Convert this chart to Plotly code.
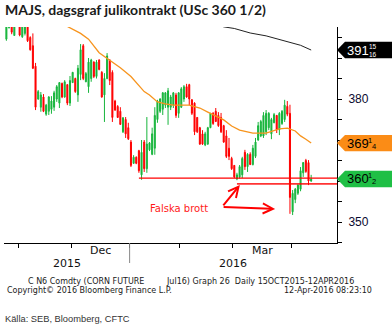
import numpy as np
import pandas as pd
import plotly.graph_objects as go

# ---------------- data ----------------
holidays = ["2015-11-26", "2015-12-25", "2016-01-01", "2016-01-18", "2016-02-15", "2016-03-25"]
trade_dates = [d for d in pd.bdate_range("2015-10-26", "2016-04-12")
               if d.strftime("%Y-%m-%d") not in holidays]

opens = [394.6, 397.4, 399.0, 395.5, 398.5, 399.5, 395.2, 396.0, 399.0, 395.0,
         393.0, 388.0, 380.0, 378.0, 380.5, 376.3, 377.0, 377.5, 378.0, 380.0,
         379.0, 383.8, 380.5, 383.5, 379.0, 384.0, 385.0, 381.0, 386.0, 393.0,
         384.2, 383.0, 385.0, 389.0, 385.5, 389.5, 386.5, 381.0, 385.0, 389.5,
         386.5, 379.5, 378.2, 377.0, 372.0, 375.0, 373.0, 369.5, 364.3, 365.8,
         367.4, 361.5, 369.5, 363.0, 367.6, 366.5, 368.0, 375.0, 377.0, 377.5,
         378.5, 378.0, 378.0, 378.5, 381.0, 376.5, 378.0, 380.0, 383.0, 383.5,
         379.8, 379.0, 375.5, 373.0, 371.5, 368.8, 369.0, 373.0, 376.5, 377.0,
         376.0, 375.5, 373.5, 371.0, 368.0, 365.5, 363.8, 360.5, 361.0, 361.5,
         367.0, 363.5, 366.5, 364.0, 366.0, 370.0, 371.0, 371.0, 372.0, 373.0,
         371.5, 374.2, 376.0, 372.5, 374.0, 375.0, 378.2, 376.5, 352.5, 355.5,
         357.0, 358.0, 362.0, 365.0, 364.5, 360.0]
highs = [399.5, 399.0, 399.5, 399.3, 400.0, 400.0, 399.5, 399.2, 399.5, 395.3,
         396.0, 388.8, 382.2, 381.7, 381.2, 378.8, 380.7, 380.7, 382.0, 383.4,
         384.1, 384.0, 384.6, 383.6, 385.6, 386.6, 385.2, 388.3, 393.4, 393.4,
         386.6, 390.0, 389.8, 389.2, 389.5, 389.7, 386.8, 386.3, 391.2, 389.7,
         387.0, 379.8, 378.5, 378.0, 375.6, 375.6, 374.2, 370.0, 366.3, 366.0,
         367.6, 370.0, 370.0, 375.6, 369.5, 373.0, 378.0, 379.8, 380.2, 381.7,
         381.7, 382.7, 381.0, 381.7, 381.5, 381.7, 382.9, 383.4, 383.7, 383.7,
         380.0, 379.2, 375.6, 373.2, 372.4, 372.0, 373.2, 376.6, 376.8, 377.8,
         376.8, 376.6, 373.7, 372.4, 370.5, 365.9, 363.9, 362.0, 363.9, 365.9,
         367.6, 366.8, 367.0, 368.8, 370.5, 374.4, 374.9, 376.8, 377.3, 376.8,
         375.4, 376.6, 376.1, 376.8, 377.3, 379.8, 379.5, 378.6, 357.8, 358.3,
         359.2, 363.4, 364.6, 365.4, 365.1, 361.5]
lows = [394.2, 397.2, 395.8, 395.4, 398.0, 395.3, 394.9, 395.5, 393.9, 391.8,
        387.3, 377.3, 379.8, 376.9, 376.8, 375.9, 376.1, 376.4, 377.1, 379.3,
        377.8, 380.2, 380.3, 378.5, 378.3, 383.9, 381.5, 379.3, 384.6, 384.6,
        384.1, 381.5, 384.2, 385.1, 385.0, 387.0, 380.3, 374.4, 384.8, 383.4,
        374.4, 377.1, 375.4, 373.7, 371.7, 370.5, 370.0, 363.4, 364.2, 364.1,
        362.0, 360.3, 362.2, 362.0, 367.3, 366.3, 366.4, 374.2, 376.6, 376.1,
        377.8, 373.7, 377.3, 377.8, 375.4, 375.4, 377.8, 379.3, 380.3, 378.5,
        376.1, 371.2, 371.7, 368.8, 368.8, 368.5, 368.8, 372.9, 373.7, 374.4,
        373.2, 371.7, 369.3, 365.6, 365.1, 362.7, 360.7, 360.2, 360.6, 360.7,
        362.7, 362.2, 363.9, 363.8, 365.6, 369.8, 370.7, 370.5, 371.2, 372.4,
        370.2, 374.1, 371.7, 371.2, 373.7, 374.4, 375.8, 352.0, 351.7, 354.6,
        356.6, 357.5, 361.0, 362.0, 359.0, 359.8]
closes = [398.5, 398.5, 396.3, 398.8, 399.5, 395.6, 398.5, 398.8, 394.2, 392.0,
          387.5, 378.0, 381.8, 381.0, 377.0, 378.5, 380.5, 379.5, 381.5, 383.0,
          384.0, 380.5, 384.2, 379.0, 384.5, 386.5, 381.8, 387.5, 392.0, 385.0,
          386.2, 389.0, 389.5, 385.5, 389.0, 387.2, 380.5, 385.0, 390.5, 384.5,
          375.5, 377.3, 375.5, 373.8, 375.4, 371.5, 370.3, 363.8, 365.8, 364.3,
          362.5, 367.0, 363.0, 369.0, 369.3, 371.5, 376.0, 379.5, 380.0, 381.5,
          381.5, 382.0, 380.5, 381.5, 376.0, 381.5, 382.5, 383.0, 380.5, 380.0,
          376.5, 372.0, 372.0, 369.0, 369.0, 371.5, 373.0, 376.5, 374.0, 374.5,
          373.5, 372.0, 369.5, 366.0, 366.0, 363.0, 361.0, 361.5, 363.5, 365.5,
          363.5, 366.5, 364.0, 368.0, 369.5, 373.5, 374.5, 376.0, 376.5, 376.5,
          375.0, 376.2, 372.5, 376.5, 377.0, 378.5, 376.3, 356.0, 357.0, 358.0,
          359.0, 362.5, 364.5, 362.3, 360.0, 360.5]

# moving averages (trading-day index, value)
ma_orange_idx = [20, 23, 28, 31, 35, 39, 43, 47, 50, 52, 54, 57, 60, 63, 69, 73, 76, 79,
                 82, 85, 88, 93, 98, 103, 106, 109, 111, 113, 115]
ma_orange_val = [399.0, 397.7, 396.0, 394.6, 391.3, 389.5, 387.6, 385.5, 383.4, 381.8, 381.0,
                 379.3, 378.8, 378.5, 378.5, 377.8, 376.8, 375.9, 374.9, 373.4, 372.4, 371.7,
                 371.7, 372.7, 372.9, 372.2, 371.0, 370.2, 369.25]
ma_black_idx = [78, 82, 86, 92, 98, 107, 111, 115]
ma_black_val = [398.5, 397.6, 397.2, 396.1, 395.4, 393.9, 393.1, 391.94]

support_levels = [360.7, 359.3]
support_start_idx = [50, 87]

arrow_tail = (81.4, 353.7)
arrow_heads = [(88.1, 359.0), (101.4, 353.2)]
note_pos = (65.1, 353.2)

y_ticks = [345, 350, 355, 360, 365, 370, 375, 380, 385, 390, 395]
y_labelled = [350, 380]          # the others sit under the price tags

# ---------------- styles ----------------
GREEN = "#17b53c"
RED = "#ff0000"
ORANGE = "#f7941d"
TAG_ORANGE = "#fb8c16"
TAG_GREEN = "#1fbf45"

XMIN, XMAX = -0.9, 124.75
YMIN, YMAX = 344.88, 397.56

x = np.arange(len(trade_dates))
month_starts = [i for i in range(1, len(trade_dates))
                if trade_dates[i].month != trade_dates[i - 1].month]
month_bounds = [m - 0.5 for m in month_starts]

fig = go.Figure()
fig.add_trace(go.Candlestick(
    x=x, open=opens, high=highs, low=lows, close=closes,
    increasing=dict(line=dict(color=GREEN, width=1), fillcolor=GREEN),
    decreasing=dict(line=dict(color=RED, width=1), fillcolor=RED),
    whiskerwidth=0, hoverinfo="skip", showlegend=False))
fig.add_trace(go.Scatter(x=ma_orange_idx, y=ma_orange_val, mode="lines",
                         line=dict(color=ORANGE, width=1.3), hoverinfo="skip", showlegend=False))
fig.add_trace(go.Scatter(x=ma_black_idx, y=ma_black_val, mode="lines",
                         line=dict(color="#222222", width=1), hoverinfo="skip", showlegend=False))

# axis triangles at labelled ticks
tri_x = XMAX + 3.5 * (XMAX - XMIN) / 333
fig.add_trace(go.Scatter(x=[tri_x] * 5, y=[350, 360, 370, 380, 390], mode="markers",
                         marker=dict(symbol="triangle-right", size=7, color="black"),
                         cliponaxis=False, hoverinfo="skip", showlegend=False))

shapes = []
for lvl, st, col, w in zip(support_levels, support_start_idx,
                           [RED, "rgba(255,0,0,0.8)"], [1.4, 1.8]):
    shapes.append(dict(type="line", xref="x", yref="y", x0=st, x1=XMAX, y0=lvl, y1=lvl,
                       line=dict(color=col, width=w)))
# year separator
jan_bound = month_bounds[2]
shapes.append(dict(type="line", xref="x", yref="paper", x0=jan_bound, x1=jan_bound,
                   y0=0, y1=-0.0926, line=dict(color="#888888", width=1)))

# right tags
annotations = []
h = 2.0
tags = [(ma_black_val[-1], "black", "white", "391"),
        (ma_orange_val[-1], TAG_ORANGE, "black", "369"),
        (closes[-1], TAG_GREEN, "black", "360")]
for v, fill, tc, main in tags:
    shapes.append(dict(type="path", xref="paper", yref="y",
                       path=f"M 1.0,{v} L 1.024,{v + h} L 1.2,{v + h} L 1.2,{v - h} L 1.024,{v - h} Z",
                       fillcolor=fill, line=dict(width=0), layer="above"))
    annotations.append(dict(xref="paper", yref="y", x=1.026, y=v, text=main, showarrow=False,
                            xanchor="left", yanchor="middle", borderpad=0,
                            font=dict(family="Liberation Sans, Arial", size=13, color=tc)))

frac_font = dict(family="Liberation Sans, Arial", size=6.5)
# 15/16 stacked
annotations.append(dict(xref="paper", yref="y", x=1.108, y=tags[0][0], text="15<br>16",
                        showarrow=False, xanchor="center", yanchor="middle", borderpad=0,
                        font=dict(frac_font, color="white")))
# 1/4 and 1/2 (numerator up-left, denominator down-right)
for v, den in [(tags[1][0], "4"), (tags[2][0], "2")]:
    annotations.append(dict(xref="paper", yref="y", x=1.098, y=v, yshift=3, text="1",
                            showarrow=False, xanchor="center", yanchor="middle", borderpad=0,
                            font=dict(family="Liberation Sans, Arial", size=7.5, color="black")))
    annotations.append(dict(xref="paper", yref="y", x=1.111, y=v, yshift=-3, text=den,
                            showarrow=False, xanchor="center", yanchor="middle", borderpad=0,
                            font=dict(family="Liberation Sans, Arial", size=7.5, color="black")))

# arrows
for hx, hy in arrow_heads:
    annotations.append(dict(x=hx, y=hy, xref="x", yref="y", ax=arrow_tail[0], ay=arrow_tail[1],
                            axref="x", ayref="y", text="", showarrow=True, arrowhead=5,
                            arrowsize=1, arrowwidth=2, arrowcolor=RED, standoff=0,
                            startstandoff=0))
annotations.append(dict(x=note_pos[0], y=note_pos[1], xref="x", yref="y", text="Falska brott",
                        showarrow=False, xanchor="center", yanchor="middle",
                        font=dict(family="DejaVu Sans", size=10, color="#ff1a1a")))

# title
annotations.append(dict(xref="paper", yref="paper", x=0, y=1.079, xanchor="left", yanchor="middle",
                        text="MAJS, dagsgraf julikontrakt (USc 360 1/2)", showarrow=False,
                        borderpad=0,
                        font=dict(family="Lato, Liberation Sans", size=14, color="#1a1a1a",
                                  weight="bold")))

# month + year labels
mon_font = dict(family="DejaVu Sans", size=11, color="#111111")
for a, b, lab in [(month_bounds[1], month_bounds[2], "Dec"), (month_bounds[4], month_bounds[5], "Mar")]:
    annotations.append(dict(xref="x", yref="paper", x=(a + b) / 2, y=-0.037, text=lab,
                            showarrow=False, xanchor="center", yanchor="middle", font=mon_font))
annotations.append(dict(xref="x", yref="paper", x=(XMIN + jan_bound) / 2, y=-0.097, text="2015",
                        showarrow=False, xanchor="center", yanchor="middle", font=mon_font))
annotations.append(dict(xref="x", yref="paper", x=(jan_bound + XMAX) / 2, y=-0.097, text="2016",
                        showarrow=False, xanchor="center", yanchor="middle", font=mon_font))

foot = dict(family="DejaVu Sans", size=8, color="#1a1a1a")
annotations += [
    dict(xref="paper", yref="paper", x=0.069, y=-0.176, xanchor="left", yanchor="middle",
         text="C N6 Comdty (CORN FUTURE", showarrow=False, font=foot, borderpad=0),
    dict(xref="paper", yref="paper", x=0.4835, y=-0.176, xanchor="left", yanchor="middle",
         text="Jul16) Graph 26  Daily 15OCT2015-12APR2016", showarrow=False, font=foot, borderpad=0),
    dict(xref="paper", yref="paper", x=0.006, y=-0.222, xanchor="left", yanchor="middle",
         text="Copyright\u00a9 2016 Bloomberg Finance L.P.", showarrow=False, font=foot, borderpad=0),
    dict(xref="paper", yref="paper", x=1.108, y=-0.222, xanchor="right", yanchor="middle",
         text="12-Apr-2016 08:23:10", showarrow=False, font=foot, borderpad=0),
    dict(xref="paper", yref="paper", x=0.0, y=-0.352, xanchor="left", yanchor="middle",
         text="K\u00e4lla: SEB, Bloomberg, CFTC", showarrow=False, borderpad=0,
         font=dict(family="Liberation Sans, Arial", size=9.3, color="#333333")),
]

fig.update_layout(
    width=392, height=331,
    margin=dict(l=4, r=55, t=27, b=88),
    paper_bgcolor="white", plot_bgcolor="white",
    showlegend=False, boxgap=0.45,
    shapes=shapes, annotations=annotations,
    xaxis=dict(range=[XMIN, XMAX], showgrid=False, zeroline=False, showline=True,
               linecolor="black", linewidth=1, ticks="outside", ticklen=4, tickcolor="black",
               tickvals=month_bounds, showticklabels=False, rangeslider=dict(visible=False),
               fixedrange=True),
    yaxis=dict(range=[YMIN, YMAX], side="right", showgrid=False, zeroline=False, showline=True,
               linecolor="black", linewidth=1, ticks="outside", ticklen=4, tickcolor="black",
               tickvals=y_ticks,
               ticktext=[str(t) if t in y_labelled else "" for t in y_ticks],
               tickfont=dict(family="Liberation Sans, Arial", size=12, color="#0a0a30"),
               ticklabelstandoff=4, fixedrange=True),
)

fig.write_html("out.html")
